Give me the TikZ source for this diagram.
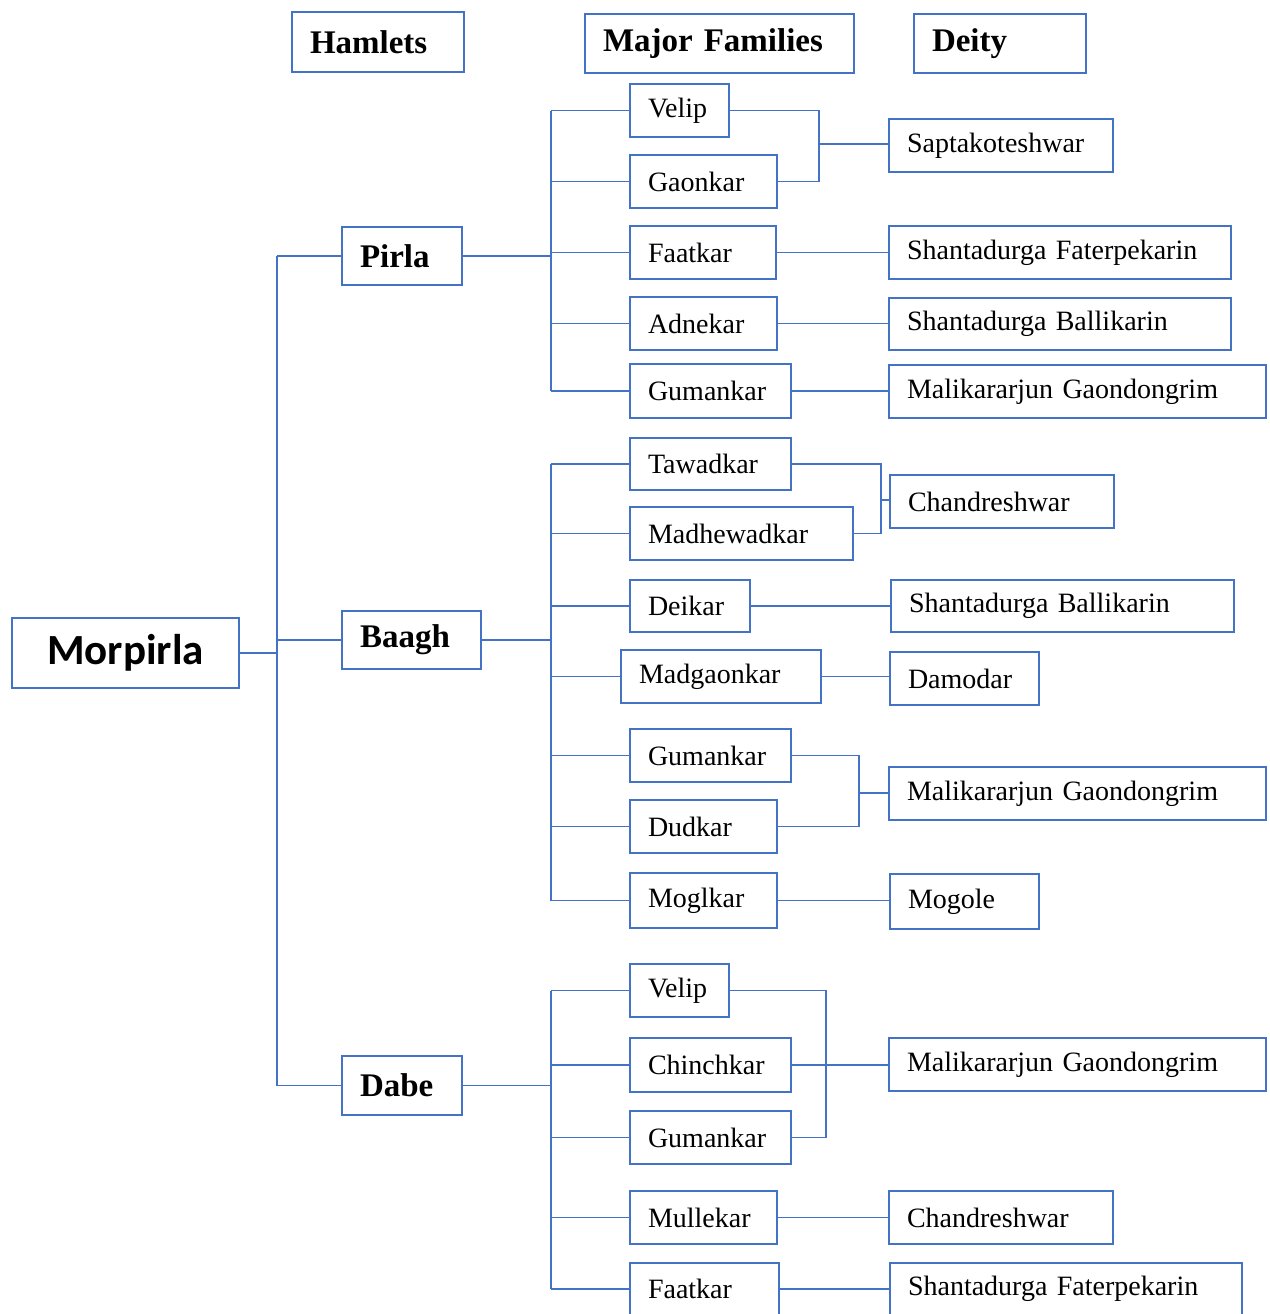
\documentclass[tikz,border=0pt]{standalone}
\usepackage{fontspec}
\setmainfont{Liberation Serif}
\newfontfamily\calibri{Carlito}
\definecolor{boxblue}{RGB}{68,114,196}
\tikzset{
  cell/.style={draw=boxblue, line width=2pt, anchor=north west, inner xsep=18pt,
    inner ysep=0pt, minimum height=53pt, align=left, text width=#1,
    font=\fontsize{28}{32}\selectfont},
  head/.style={cell=#1, minimum height=59pt, font=\fontsize{33}{38}\selectfont\bfseries},
  link/.style={draw=boxblue, line width=1.3pt},
}
\begin{document}
\begin{tikzpicture}[x=1pt, y=-1pt]
  \useasboundingbox (0,0) rectangle (1269,1314);

  \node[head=136pt, minimum height=60pt] (hh) at (291,11) {Hamlets};
  \node[head=233pt] (hf) at (584,13) {Major Families};
  \node[head=136pt] (hd) at (913,13) {Deity};

  \node[draw=boxblue, line width=2pt, anchor=north west, minimum width=227pt,
    minimum height=70pt, font=\fontsize{43}{50}\selectfont\calibri\bfseries] (morp) at (11,617) {Morpirla};

  \node[head=84pt, minimum height=58pt] (pirla) at (341,226) {Pirla};
  \node[head=103pt, minimum height=58pt] (baagh) at (341,610) {Baagh};
  \node[head=84pt, minimum height=59pt] (dabe) at (341,1055) {Dabe};

  \node[cell=63pt] (p1) at (629,83) {Velip};
  \node[cell=111pt] (p2) at (629,154) {Gaonkar};
  \node[cell=110pt] (p3) at (629,225) {Faatkar};
  \node[cell=111pt] (p4) at (629,296) {Adnekar};
  \node[cell=125pt, minimum height=54pt] (p5) at (629,363) {Gumankar};

  \node[cell=125pt, minimum height=52pt] (b1) at (629,437) {Tawadkar};
  \node[cell=187pt] (b2) at (629,506) {Madhewadkar};
  \node[cell=84pt, minimum height=52pt] (b3) at (629,579) {Deikar};
  \node[cell=164pt] (b4) at (620,649) {Madgaonkar};
  \node[cell=125pt] (b5) at (629,728) {Gumankar};
  \node[cell=111pt] (b6) at (629,799) {Dudkar};
  \node[cell=111pt, minimum height=55pt] (b7) at (629,872) {Moglkar};

  \node[cell=63pt] (d1) at (629,963) {Velip};
  \node[cell=125pt, minimum height=54pt] (d2) at (629,1037) {Chinchkar};
  \node[cell=125pt] (d3) at (629,1110) {Gumankar};
  \node[cell=111pt] (d4) at (629,1190) {Mullekar};
  \node[cell=113pt, minimum height=52pt] (d5) at (629,1262) {Faatkar};

  \node[cell=188pt] (pd1) at (888,118) {Saptakoteshwar};
  \node[cell=306pt] (pd2) at (888,225) {Shantadurga Faterpekarin};
  \node[cell=306pt, minimum height=52pt] (pd3) at (888,297) {Shantadurga Ballikarin};
  \node[cell=341pt] (pd4) at (888,364) {Malikararjun Gaondongrim};

  \node[cell=188pt] (bd1) at (889,474) {Chandreshwar};
  \node[cell=307pt, minimum height=52pt] (bd2) at (890,579) {Shantadurga Ballikarin};
  \node[cell=113pt] (bd3) at (889,651) {Damodar};
  \node[cell=341pt] (bd4) at (888,766) {Malikararjun Gaondongrim};
  \node[cell=113pt, minimum height=55pt] (bd5) at (889,873) {Mogole};

  \node[cell=341pt] (dd1) at (888,1037) {Malikararjun Gaondongrim};
  \node[cell=188pt] (dd2) at (888,1190) {Chandreshwar};
  \node[cell=316pt, minimum height=52pt] (dd3) at (889,1262) {Shantadurga Faterpekarin};

  \coordinate (trunk) at (277,0);
  \coordinate (bus) at (551,0);

  \draw[link] (morp.east) -- (morp.east -| trunk);
  \draw[link] (trunk |- pirla.west) -- (trunk |- dabe.west);
  \foreach \h in {pirla,baagh,dabe}
    \draw[link] (trunk |- \h.west) -- (\h.west);

  \draw[link] (pirla.east) -- (pirla.east -| bus);
  \draw[link] (bus |- p1.west) -- (bus |- p5.west);
  \foreach \f in {p1,p2,p3,p4,p5}
    \draw[link] (bus |- \f.west) -- (\f.west);

  \draw[link] (baagh.east) -- (baagh.east -| bus);
  \draw[link] (bus |- b1.west) -- (bus |- b7.west);
  \foreach \f in {b1,b2,b3,b4,b5,b6,b7}
    \draw[link] (bus |- \f.west) -- (\f.west);

  \draw[link] (dabe.east) -- (dabe.east -| bus);
  \draw[link] (bus |- d1.west) -- (bus |- d5.west);
  \foreach \f in {d1,d2,d3,d4,d5}
    \draw[link] (bus |- \f.west) -- (\f.west);

  \coordinate (pj) at (819,144);
  \draw[link] (p1.east) -| (pj) |- (p2.east);
  \draw[link] (pj) -- (pj -| pd1.west);
  \draw[link] (p3.east) -- (p3.east -| pd2.west);
  \draw[link] (p4.east) -- (p4.east -| pd3.west);
  \draw[link] (p5.east) -- (p5.east -| pd4.west);

  \coordinate (bj) at (881,500);
  \draw[link] (b1.east) -| (bj) |- (b2.east);
  \draw[link] (bj) -- (bj -| bd1.west);
  \draw[link] (b3.east) -- (b3.east -| bd2.west);
  \draw[link] (b4.east) -- (b4.east -| bd3.west);
  \coordinate (bk) at (859,793);
  \draw[link] (b5.east) -| (bk) |- (b6.east);
  \draw[link] (bk) -- (bk -| bd4.west);
  \draw[link] (b7.east) -- (b7.east -| bd5.west);

  \coordinate (dj) at (826,1064);
  \draw[link] (d1.east) -| (dj) |- (d3.east);
  \draw[link] (d2.east) -- (d2.east -| dd1.west);
  \draw[link] (d4.east) -- (d4.east -| dd2.west);
  \draw[link] (d5.east) -- (d5.east -| dd3.west);
\end{tikzpicture}
\end{document}
